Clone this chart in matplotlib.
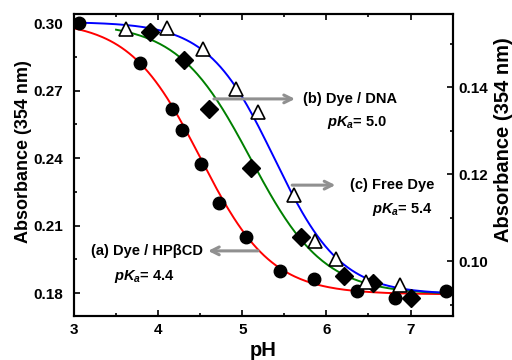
import numpy as np
import matplotlib
matplotlib.use('Agg')
import matplotlib.pyplot as plt
from matplotlib.ticker import MultipleLocator, FormatStrFormatter

plt.rcParams['font.family'] = ['Liberation Sans', 'DejaVu Sans']
plt.rcParams['font.weight'] = 'bold'
plt.rcParams['mathtext.fontset'] = 'custom'
plt.rcParams['mathtext.it'] = 'Liberation Sans:italic:bold'
plt.rcParams['mathtext.rm'] = 'Liberation Sans:bold'

# (a) Dye / HPbCD  - circles
ph_a = [3.06, 3.78, 4.16, 4.28, 4.51, 4.72, 5.04, 5.45, 5.85, 6.36, 6.81, 7.42]
abs_a = [0.300, 0.2824, 0.262, 0.2525, 0.2375, 0.2201, 0.205, 0.190, 0.1864, 0.1812, 0.1778, 0.1808]
# free dye - diamonds
ph_c = [3.90, 4.31, 4.61, 5.10, 5.70, 6.21, 6.55, 7.01]
abs_c = [0.296, 0.2838, 0.262, 0.2354, 0.2048, 0.1878, 0.1844, 0.1778]
# dye / DNA - open triangles
ph_b = [3.62, 4.11, 4.53, 4.93, 5.19, 5.62, 5.87, 6.12, 6.47, 6.87]
abs_b = [0.2975, 0.298, 0.2886, 0.2706, 0.2605, 0.2236, 0.2033, 0.1952, 0.1851, 0.1837]

# sigmoid fit parameters: (top, bottom, centre, slope, x start)
fit_red = (0.301, 0.1795, 4.50, 1.03, 3.0)
fit_green = (0.300, 0.1795, 5.10, 1.0, 3.5)
fit_blue = (0.3005, 0.1795, 5.38, 1.1, 3.0)


def sigmoid(p):
    top, bot, x0, n, xs = p
    x = np.linspace(xs, 7.5, 200)
    return x, bot + (top - bot) / (1 + 10 ** (n * (x - x0)))


fig = plt.figure(figsize=(5.12, 3.6), dpi=100)
ax = fig.add_axes([0.1445, 0.123, 0.7395, 0.838])

for p, c in [(fit_red, 'red'), (fit_green, 'green'), (fit_blue, 'blue')]:
    x, y = sigmoid(p)
    ax.plot(x, y, color=c, lw=1.4, zorder=2)

ax.plot(ph_a, abs_a, 'o', color='black', ms=9, zorder=3)
ax.plot(ph_c, abs_c, 'D', color='black', ms=9, zorder=3)
ax.plot(ph_b, abs_b, '^', mfc='white', mec='black', mew=1.2, ms=10.5, zorder=3)

ax.set_xlim(3, 7.5)
ax.set_ylim(0.170, 0.304)
ax.xaxis.set_major_locator(MultipleLocator(1))
ax.xaxis.set_minor_locator(MultipleLocator(0.5))
ax.yaxis.set_major_locator(MultipleLocator(0.03))
ax.yaxis.set_minor_locator(MultipleLocator(0.015))
ax.yaxis.set_major_formatter(FormatStrFormatter('%.2f'))
ax.tick_params(which='both', direction='in', top=True, labelsize=11, width=1.2)
ax.tick_params(which='major', length=4)
ax.tick_params(which='minor', length=2.5)
ax.tick_params(axis='x', pad=5)
ax.tick_params(axis='y', pad=8)
ax.set_xlabel('pH', fontsize=14.5, fontweight='bold')
ax.xaxis.set_label_coords(0.5, -0.083)
ax.set_ylabel('Absorbance (354 nm)', fontsize=13, fontweight='bold')
ax.yaxis.set_label_coords(-0.111, 0.543)
for s in ax.spines.values():
    s.set_linewidth(1.5)

ax2 = ax.twinx()
ax2.set_ylim(0.0875, 0.1568)
ax2.yaxis.set_major_locator(MultipleLocator(0.02))
ax2.yaxis.set_minor_locator(MultipleLocator(0.01))
ax2.yaxis.set_major_formatter(FormatStrFormatter('%.2f'))
ax2.tick_params(which='both', direction='in', labelsize=11, width=1.2)
ax2.tick_params(which='major', length=4, pad=4)
ax2.tick_params(which='minor', length=2.5)
ax2.set_ylabel('Absorbance (354 nm)', fontsize=14.5, fontweight='bold')
ax2.yaxis.set_label_coords(1.109, 0.583)
for s in ax2.spines.values():
    s.set_linewidth(1.5)

arr = dict(arrowstyle='->', color='#909090', lw=2.2, mutation_scale=14)
ax.annotate('', xy=(5.66, 0.2663), xytext=(4.63, 0.2663), arrowprops=arr)
ax.text(5.72, 0.2663, '(b) Dye / DNA', fontsize=10.5, va='center')
ax.text(6.01, 0.2560, r'$pK_a$= 5.0', fontsize=10.5, va='center')

ax.annotate('', xy=(6.14, 0.228), xytext=(5.56, 0.228), arrowprops=arr)
ax.text(6.28, 0.228, '(c) Free Dye', fontsize=10.5, va='center')
ax.text(6.54, 0.2172, r'$pK_a$= 5.4', fontsize=10.5, va='center')

ax.annotate('', xy=(4.56, 0.1988), xytext=(5.22, 0.1988), arrowprops=arr)
ax.text(4.53, 0.1988, '(a) Dye / HPβCD', fontsize=10.5, va='center', ha='right')
ax.text(3.48, 0.1876, r'$pK_a$= 4.4', fontsize=10.5, va='center')

plt.savefig('out.png', dpi=100)
